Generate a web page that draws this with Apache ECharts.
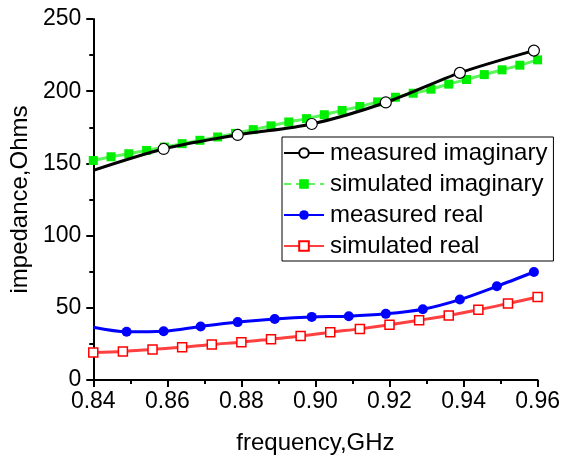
<!DOCTYPE html>
<html>
<head>
<meta charset="utf-8">
<script src="https://cdn.jsdelivr.net/npm/echarts@6/dist/echarts.min.js"></script>
<style>
html,body{margin:0;padding:0;background:#fff;}
#chart{width:563px;height:460px;}
</style>
</head>
<body>
<div id="chart"></div>
<script>
var FONT = "'Liberation Sans', Arial, sans-serif";

// measured imaginary (first point has no marker)
var measImagFreq = [0.84, 0.859, 0.879, 0.899, 0.919, 0.939, 0.959];
var measImagVal  = [145.2, 160.0, 169.7, 177.3, 192.2, 212.7, 228.1];

// simulated imaginary
var simImagFreq = [0.84, 0.8448, 0.8496, 0.8544, 0.8592, 0.864, 0.8688, 0.8736, 0.8784, 0.8832,
                   0.888, 0.8928, 0.8976, 0.9024, 0.9072, 0.912, 0.9168, 0.9216, 0.9264, 0.9312,
                   0.936, 0.9408, 0.9456, 0.9504, 0.9552, 0.96];
var simImagVal  = [152.0, 154.6, 156.7, 159.0, 161.3, 163.7, 166.0, 168.3, 170.8, 173.4,
                   176.0, 178.7, 181.0, 183.7, 186.7, 189.4, 192.6, 195.8, 198.6, 201.4,
                   204.9, 208.1, 211.5, 214.8, 218.0, 221.7];

// measured real (first point has no marker)
var measRealFreq = [0.84, 0.849, 0.859, 0.869, 0.879, 0.889, 0.899, 0.909, 0.919, 0.929, 0.939, 0.949, 0.959];
var measRealVal  = [36.5, 33.4, 33.8, 37.1, 40.1, 42.3, 43.7, 44.2, 45.8, 49.0, 55.7, 64.9, 74.8];

// simulated real
var simRealFreq = [0.84, 0.848, 0.856, 0.864, 0.872, 0.88, 0.888, 0.896,
                   0.904, 0.912, 0.92, 0.928, 0.936, 0.944, 0.952, 0.96];
var simRealVal  = [19.1, 19.8, 21.2, 22.6, 24.6, 26.2, 28.3, 30.4,
                   33.1, 35.4, 38.2, 41.4, 44.7, 48.6, 53.0, 57.5];

var seriesNames = ['measured imaginary', 'simulated imaginary', 'measured real', 'simulated real'];

function pairs(fs, vs, hideFirst){
    var out = [];
    for (var i = 0; i < fs.length; i++) {
        if (hideFirst && i === 0) out.push({value: [fs[i], vs[i]], symbol: 'none'});
        else out.push([fs[i], vs[i]]);
    }
    return out;
}

var chart = echarts.init(document.getElementById('chart'));

var option = {
    animation: false,
    backgroundColor: '#fff',
    textStyle: {fontFamily: FONT},
    grid: {left: 89, right: 24, top: 19, bottom: 79, containLabel: false},
    legend: {
        orient: 'vertical',
        left: 282,
        top: 137,
        width: 272,
        padding: [4, 6, 3, 1],
        itemWidth: 40,
        itemHeight: 12,
        itemGap: 7,
        borderColor: '#000',
        borderWidth: 1,
        backgroundColor: '#fff',
        textStyle: {fontFamily: FONT, fontSize: 24, color: '#000', lineHeight: 24, padding: [0, 0, 0, 1]},
        data: [
            {name: seriesNames[0]},
            {name: seriesNames[1], lineStyle: {type: [7, 5]}},
            {name: seriesNames[2]},
            {name: seriesNames[3]}
        ]
    },
    xAxis: {
        type: 'value',
        min: 0.84,
        max: 0.96,
        interval: 0.02,
        name: 'frequency,GHz',
        nameLocation: 'middle',
        nameGap: 51,
        nameTextStyle: {fontFamily: FONT, fontSize: 24, color: '#000'},
        axisLine: {lineStyle: {color: '#000', width: 2}},
        axisTick: {inside: false, length: 7, lineStyle: {color: '#000', width: 2}},
        minorTick: {show: true, splitNumber: 2, length: 4, lineStyle: {color: '#000', width: 2}},
        splitLine: {show: false},
        axisLabel: {
            fontFamily: FONT, fontSize: 23, color: '#000', margin: 10,
            formatter: function (v) { return v.toFixed(2); }
        }
    },
    yAxis: {
        type: 'value',
        min: 0,
        max: 250,
        interval: 50,
        name: 'impedance,Ohms',
        nameLocation: 'middle',
        nameGap: 56,
        nameTextStyle: {fontFamily: FONT, fontSize: 24, color: '#000'},
        axisLine: {show: true, lineStyle: {color: '#000', width: 2}},
        axisTick: {show: true, inside: false, length: 7, lineStyle: {color: '#000', width: 2}},
        minorTick: {show: true, splitNumber: 2, length: 4, lineStyle: {color: '#000', width: 2}},
        splitLine: {show: false},
        axisLabel: {fontFamily: FONT, fontSize: 23, color: '#000', margin: 12}
    },
    series: [
        {
            name: seriesNames[1],
            type: 'line',
            smooth: 0.3,
            z: 2,
            symbol: 'rect',
            symbolSize: 9,
            lineStyle: {color: '#5cf55c', width: 3},
            itemStyle: {color: '#00ee00', borderWidth: 0},
            data: pairs(simImagFreq, simImagVal, false)
        },
        {
            name: seriesNames[0],
            type: 'line',
            smooth: 0.3,
            z: 3,
            symbol: 'circle',
            symbolSize: 11,
            lineStyle: {color: '#000', width: 3},
            itemStyle: {color: '#fff', borderColor: '#000', borderWidth: 1.2},
            data: pairs(measImagFreq, measImagVal, true)
        },
        {
            name: seriesNames[2],
            type: 'line',
            smooth: 0.3,
            z: 3,
            symbol: 'circle',
            symbolSize: 10,
            lineStyle: {color: '#0000ff', width: 3},
            itemStyle: {color: '#0000ff', borderWidth: 0},
            data: pairs(measRealFreq, measRealVal, true)
        },
        {
            name: seriesNames[3],
            type: 'line',
            smooth: 0.3,
            z: 3,
            symbol: 'rect',
            symbolSize: 9,
            lineStyle: {color: '#ff4040', width: 3},
            itemStyle: {color: '#fff', borderColor: '#ff0000', borderWidth: 1.5},
            data: pairs(simRealFreq, simRealVal, false)
        }
    ]
};

chart.setOption(option);
</script>
</body>
</html>
